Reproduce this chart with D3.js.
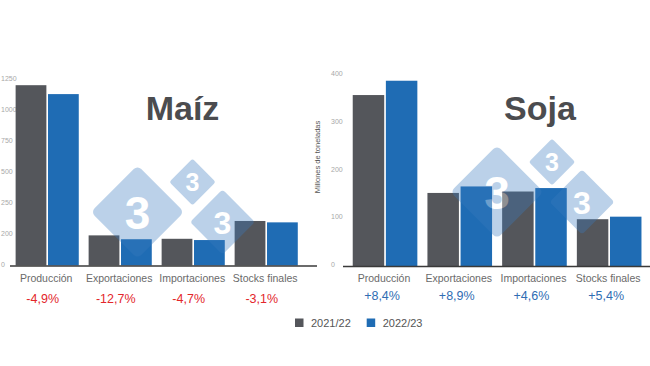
<!DOCTYPE html>
<html><head><meta charset="utf-8">
<script src="https://cdn.jsdelivr.net/npm/d3@7"></script>
<style>
html,body{margin:0;padding:0;background:#fff;}
svg{display:block;font-family:"Liberation Sans",Arial,sans-serif;}
</style></head>
<body><svg id="c" width="650" height="366"></svg>
<script>
// ---- data ----
const categories = ["Producción","Exportaciones","Importaciones","Stocks finales"];
const seriesNames = ["2021/22","2022/23"];
const maizTitle = "Maíz";
const maiz2021 = [1215, 203, 180, 300];
const maiz2022 = [1155, 177, 171.5, 290.7];
const maizChange = ["-4,9%","-12,7%","-4,7%","-3,1%"];
const maizTickLabels = ["0","200","250","500","750","1000","1250"];
const maizMax = 1250;
const sojaTitle = "Soja";
const soja2021 = [358, 153, 156, 98];
const soja2022 = [388, 166.6, 163.2, 103.3];
const sojaChange = ["+8,4%","+8,9%","+4,6%","+5,4%"];
const sojaTickLabels = ["0","100","200","300","400"];
const sojaMax = 400;
const yTitle = "Millones de toneladas";

const colors = {"2021/22":"#54565b","2022/23":"#1f6cb4"};
const svg = d3.select("#c");

function chart(opts){
  const g = svg.append("g");
  const x = d3.scaleBand().domain(categories).range(opts.xr).paddingInner(0.135).paddingOuter(0.066);
  const xi = d3.scaleBand().domain(seriesNames).range([0, x.bandwidth()]).paddingInner(0.05);
  const y = d3.scaleLinear().domain([0, opts.max]).range([opts.base, opts.top]);
  const n = opts.tickLabels.length;
  const tv = d3.range(n).map(i => i*opts.max/(n-1));
  // y axis labels
  const ax = g.append("g").attr("transform",`translate(${opts.tickX},0)`)
    .call(d3.axisLeft(y).tickValues(tv).tickSize(0).tickFormat((d,i)=>opts.tickLabels[i]));
  ax.select(".domain").remove();
  ax.selectAll("text").attr("text-anchor","start").attr("x",0).attr("dy","0.1em")
    .attr("fill","#a8a8a8").style("font-size","7px").style("font-family","Liberation Sans, Arial, sans-serif");
  // bars
  const rows = categories.map((c,i)=>({c, vals:[{s:seriesNames[0],v:opts.a[i]},{s:seriesNames[1],v:opts.b[i]}]}));
  const gg = g.selectAll(".grp").data(rows).join("g").attr("transform",d=>`translate(${x(d.c)},0)`);
  gg.selectAll("rect").data(d=>d.vals).join("rect")
    .attr("x",d=>xi(d.s)).attr("width",xi.bandwidth())
    .attr("y",d=>y(d.v)).attr("height",d=>y(0)-y(d.v)).attr("fill",d=>colors[d.s]);
  // baseline
  g.append("line").attr("x1",opts.axisX[0]).attr("x2",opts.axisX[1])
    .attr("y1",y(0)+0.5).attr("y2",y(0)+0.5).attr("stroke","#3a3a3a").attr("stroke-width",1.5);
  // category labels
  g.selectAll(".cat").data(categories).join("text")
    .attr("x",d=>x(d)+x.bandwidth()/2-1).attr("y",282).attr("text-anchor","middle")
    .attr("fill","#6a6a6a").style("font-size","10.5px").text(d=>d);
  g.selectAll(".pct").data(opts.change).join("text")
    .attr("x",(d,i)=>x(categories[i])+x.bandwidth()/2+opts.pctOff).attr("y",opts.pctY).attr("text-anchor","middle")
    .attr("fill",opts.pctColor).style("font-size","12.5px").text(d=>d);
  // title
  g.append("text").attr("x",opts.titleX).attr("y",120).attr("text-anchor","middle")
    .attr("fill","#4b4c4f").style("font-size","34px").style("font-weight","bold").text(opts.title);
  // watermark
  const wm = g.append("g").attr("opacity",0.34);
  const L = opts.wm;
  const dia = [{dx:0,dy:0,s:66,f:46},{dx:55,dy:-30,s:33,f:25},{dx:85,dy:10,s:46,f:32}];
  dia.forEach(d=>{
    const cx=L[0]+d.dx, cy=L[1]+d.dy;
    wm.append("rect").attr("x",cx-d.s/2).attr("y",cy-d.s/2).attr("width",d.s).attr("height",d.s)
      .attr("rx",d.s*0.08).attr("fill","#3a7bbf").attr("transform",`rotate(45,${cx},${cy})`);
    wm.append("text").attr("x",cx).attr("y",cy+d.f*0.36).attr("text-anchor","middle")
      .attr("fill","#ffffff").style("font-size",d.f+"px").style("font-weight","bold").text("3");
  });
  return g;
}

chart({xr:[10.8,302.6], base:265.5, top:80, max:maizMax, a:maiz2021, b:maiz2022,
  tickLabels:maizTickLabels, tickX:1, axisX:[10,317], change:maizChange, pctColor:"#e3262b",
  pctOff:-4.5, pctY:302.5, title:maizTitle, titleX:182.5, wm:[137.5,212]});
chart({xr:[347.8,646.4], base:266, top:75, max:sojaMax, a:soja2021, b:soja2022,
  tickLabels:sojaTickLabels, tickX:331, axisX:[343,650], change:sojaChange, pctColor:"#2f6db3",
  pctOff:-3, pctY:299.5, title:sojaTitle, titleX:540, wm:[497,192]});

// y axis title (right chart)
svg.append("text").attr("transform","translate(320,157) rotate(-90)").attr("text-anchor","middle")
  .attr("fill","#555").style("font-size","7.5px").text(yTitle);

// legend
const lg = svg.append("g");
const lx = d3.scalePoint().domain(seriesNames).range([295,366.7]);
seriesNames.forEach(s=>{
  lg.append("rect").attr("x",lx(s)).attr("y",318.5).attr("width",8.5).attr("height",8.5).attr("fill",colors[s]);
  lg.append("text").attr("x",lx(s)+16).attr("y",326.5).attr("fill","#555").style("font-size","11px").text(s);
});
</script></body></html>
